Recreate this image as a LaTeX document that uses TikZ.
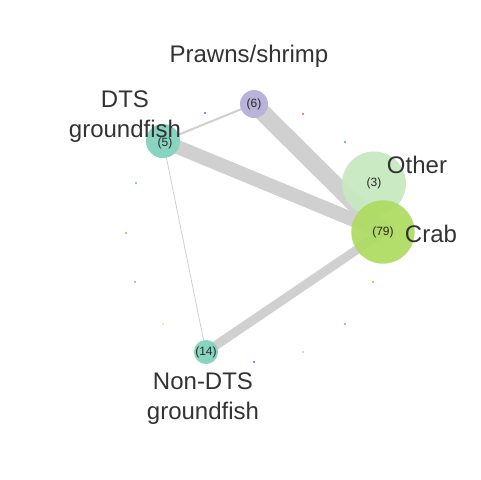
\documentclass[tikz,border=0pt]{standalone}
\usepackage{fontspec}
\setmainfont{Liberation Sans}
\usetikzlibrary{backgrounds}
\definecolor{edgegray}{RGB}{208,208,208}
\definecolor{cteal}{RGB}{137,211,193}
\definecolor{clav}{RGB}{185,178,218}
\definecolor{cother}{RGB}{199,233,192}
\definecolor{ccrab}{RGB}{174,220,96}
\definecolor{sMag}{RGB}{188,128,189}
\definecolor{sRed}{RGB}{251,128,114}
\definecolor{sBlue}{RGB}{128,177,211}
\definecolor{sTeal}{RGB}{141,211,199}
\definecolor{sOrange}{RGB}{253,180,98}
\definecolor{sLav}{RGB}{190,186,218}
\definecolor{sYellow}{RGB}{240,240,150}
\definecolor{sPink}{RGB}{252,205,229}
\begin{document}
\begin{tikzpicture}[x=0.75pt,y=-0.75pt,
  vert/.style={circle,inner sep=0pt,font=\fontsize{9}{10}\selectfont,text=black!85},
  biglabel/.style={font=\fontsize{18}{22.5}\selectfont,text=black!80,align=center,inner sep=0pt},
  edge/.style={draw=edgegray},
  dot/.style={inner sep=0pt,minimum size=1.9pt,fill=#1}]
\useasboundingbox (0,0) rectangle (480,480);
% vertices
\node[vert,fill=clav,minimum size=21pt] (prawn) at (254,104) {(6)};
\node[vert,fill=cteal,minimum size=25.5pt] (dts) at (163,141) {};
\node[font=\fontsize{9}{10}\selectfont,text=black!85] (dtsn) at (165,143) {(5)};
\node[vert,fill=cother,fill opacity=0.93,text opacity=1,minimum size=48pt] (other) at (374,183.5) {(3)};
\node[vert,fill=ccrab,fill opacity=0.92,text opacity=1,minimum size=47.5pt] (crab) at (383,232) {(79)};
\node[vert,fill=cteal,minimum size=16.5pt] (nondts) at (206,352) {(14)};
% edges
\begin{pgfonlayer}{background}
\fill[white] (0,0) rectangle (480,480);
\draw[edge,line width=12.75pt] (prawn.center) -- (crab.center);
\draw[edge,line width=10.5pt] (dts.center) -- (crab.center);
\draw[edge,line width=6.75pt] (nondts.center) -- (crab.center);
\draw[edge,line width=1.5pt] (dts.center) -- (prawn.center);
\draw[edge,line width=0.6pt] (dts.center) -- (nondts.center);
\end{pgfonlayer}
% labels
\node[biglabel] (lprawn) at (249,56) {Prawns/shrimp};
\node[biglabel] (ldts) at (125,117) {DTS\\groundfish};
\node[biglabel] (lother) at (417,165) {Other};
\node[biglabel] (lcrab) at (431,234) {Crab};
\node[biglabel] (lnondts) at (203,399) {Non-DTS\\groundfish};
% small dots
\node[dot=sMag] (d1) at (205,113) {};
\node[dot=sRed] (d2) at (303,114) {};
\node[dot=sBlue] (d3) at (345,142) {};
\node[dot=sTeal] (d4) at (136,183) {};
\node[dot=sOrange] (d5) at (126,233) {};
\node[dot=sLav] (d6) at (135,282) {};
\node[dot=sYellow] (d7) at (163,324) {};
\node[dot=sMag] (d8) at (254,362) {};
\node[dot=sPink] (d9) at (303,352) {};
\node[dot=sTeal] (d10) at (345,324) {};
\node[dot=sOrange] (d11) at (373,282) {};
\end{tikzpicture}
\end{document}
